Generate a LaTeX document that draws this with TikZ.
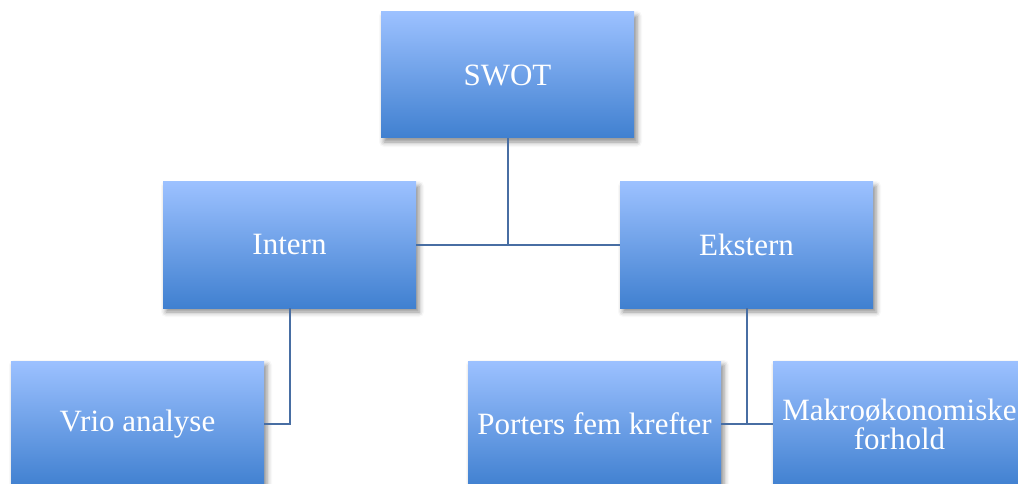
\documentclass[tikz,border=0pt]{standalone}
\usepackage{fontspec}
\setmainfont{Liberation Serif}
\usetikzlibrary{shadows.blur}
\definecolor{boxtop}{RGB}{156,193,255}
\definecolor{boxmid}{RGB}{118,163,234}
\definecolor{boxbot}{RGB}{64,128,208}
\definecolor{linkcol}{RGB}{72,110,163}
\tikzset{
  orgbox/.style={rectangle, minimum width=253pt, minimum height=126pt, inner sep=0pt,
    top color=boxtop, middle color=boxmid, bottom color=boxbot,
    text=white, align=center, font=\fontsize{31}{29}\selectfont,
    blur shadow={shadow xshift=3pt, shadow yshift=-4pt, shadow blur radius=5pt, shadow opacity=45}},
  link/.style={draw=linkcol, line width=2pt}
}
\begin{document}
\begin{tikzpicture}[x=1pt,y=-1pt]
  \useasboundingbox (0,0) rectangle (1018,484);
  \clip (0,0) rectangle (1018,484);
  % boxes of the tree
  \node[orgbox] (swot)    at (507.5,75)  {SWOT};
  \node[orgbox] (intern)  at (289.5,245) {Intern};
  \node[orgbox] (ekstern) at (746.5,245) {Ekstern};
  \node[orgbox] (vrio)    at (137.5,424) {Vrio analyse};
  \node[orgbox] (porters) at (594.5,424) {Porters fem krefter};
  \node[orgbox] (makro)   at (899.5,424) {Makroøkonomiske\\forhold};
  % connectors
  \draw[link] (swot.south) -- (swot.south |- intern.east);
  \draw[link] (intern.east) -- (ekstern.west);
  \draw[link] (intern.south) |- (vrio.east);
  \draw[link] (ekstern.south) -- (ekstern.south |- porters.east);
  \draw[link] (porters.east) -- (makro.west);
\end{tikzpicture}
\end{document}
